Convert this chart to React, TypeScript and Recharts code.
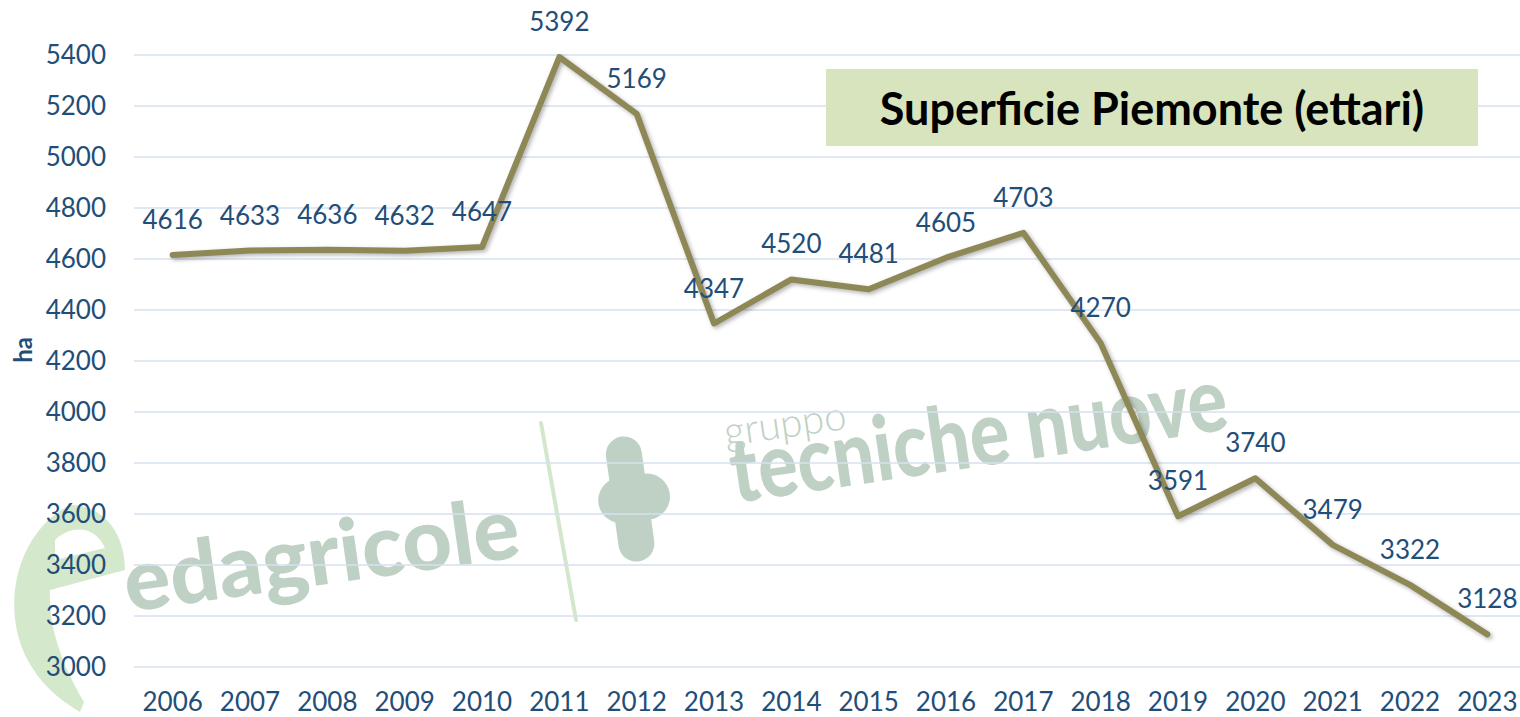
import React from 'react';
import { LineChart, Line, XAxis, YAxis, CartesianGrid, LabelList } from 'recharts';

const years = ['2006', '2007', '2008', '2009', '2010', '2011', '2012', '2013', '2014', '2015', '2016', '2017', '2018', '2019', '2020', '2021', '2022', '2023'];
const hectares = [4616, 4633, 4636, 4632, 4647, 5392, 5169, 4347, 4520, 4481, 4605, 4703, 4270, 3591, 3740, 3479, 3322, 3128];
const yTicks = [3000, 3200, 3400, 3600, 3800, 4000, 4200, 4400, 4600, 4800, 5000, 5200, 5400];

const data = years.map((year, i) => ({ idx: i, year, ha: hectares[i] }));
const centerTicks = years.map((_, i) => i);
const boundaryTicks = [...years.map((_, i) => i - 0.5), years.length - 0.5];

const BLUE = '#1F4E79';
const GRID = '#D6E1F0';
const OLIVE = '#8E8857';
const WM = '#BFD1C4';

// logo watermark behind the plot
const Watermark = () => (
  <svg width={1520} height={717} style={{ position: 'absolute', left: 0, top: 0 }}>
    <path
      d="M70 505 C20 530 0 600 25 655 C40 685 60 700 80 712 L84 702 C65 670 48 630 50 590 L125 570 C125 535 105 505 70 505 Z M55 540 C70 525 95 525 105 548 L55 560 Z"
      fill="#D4E8CC"
      fillRule="evenodd"
    />
    <line x1={541} y1={423} x2={576} y2={620} stroke="#D3E7CB" strokeWidth={4} strokeLinecap="round" />
    <g transform="rotate(-8 630 498)">
      <rect x={612} y={436} width={36} height={126} rx={18} fill={WM} />
      <rect x={598} y={476} width={72} height={46} rx={23} fill={WM} />
    </g>
    <text transform="translate(128 612) rotate(-8)" fontFamily="Lato" fontWeight={900} fontSize={86} fill={WM}>
      edagricole
    </text>
    <text transform="translate(726 446) rotate(-8)" fontFamily="Lato" fontWeight={300} fontSize={40} fill={WM}>
      gruppo
    </text>
    <text transform="translate(735 503) rotate(-8.5) scale(0.82 1)" fontFamily="Lato" fontWeight={900} fontSize={90} fill={WM}>
      tecniche nuove
    </text>
  </svg>
);

export default function App() {
  return (
    <div style={{ position: 'absolute', left: 0, top: 0, width: 1520, height: 717, overflow: 'hidden', background: '#fff', fontFamily: 'Lato' }}>
      <Watermark />
      <div style={{ position: 'absolute', left: 0, top: 0 }}>
        <LineChart width={1530} height={717} data={data} margin={{ top: 55, right: 4, left: 0, bottom: 0 }}>
          <CartesianGrid xAxisId="bounds" vertical={false} stroke={GRID} strokeWidth={1.5} />
          <XAxis
            xAxisId="bounds"
            dataKey="idx"
            type="number"
            domain={[-0.5, years.length - 0.5]}
            ticks={boundaryTicks}
            tickFormatter={() => ''}
            tickSize={9}
            height={0}
            stroke={GRID}
            strokeWidth={1.5}
          />
          <XAxis
            xAxisId="years"
            dataKey="idx"
            type="number"
            domain={[-0.5, years.length - 0.5]}
            ticks={centerTicks}
            tickFormatter={(v: number) => years[v]}
            axisLine={false}
            tickLine={false}
            tickSize={0}
            tickMargin={26}
            height={50}
            tick={{ fill: BLUE, fontSize: 26 }}
          />
          <YAxis
            domain={[3000, 5400]}
            ticks={yTicks}
            width={134}
            axisLine={false}
            tickLine={false}
            tickSize={0}
            tickMargin={28}
            tick={{ fill: BLUE, fontSize: 26 }}
            label={{
              value: 'ha',
              content: ({ viewBox }: any) => {
                const x = viewBox.x + 22;
                const y = viewBox.y + viewBox.height / 2 - 11;
                return (
                  <text x={x} y={y} transform={`rotate(-90 ${x} ${y})`} textAnchor="middle" dominantBaseline="central" fill={BLUE} fontWeight={700} fontSize={24}>
                    ha
                  </text>
                );
              },
            }}
          />
          <Line
            xAxisId="bounds"
            dataKey="ha"
            stroke={OLIVE}
            strokeWidth={6}
            strokeLinejoin="round"
            strokeLinecap="round"
            dot={false}
            isAnimationActive={false}
            style={{ filter: 'drop-shadow(2px 2px 2px rgba(0,0,0,0.3))' }}
          >
            <LabelList dataKey="ha" position="top" offset={26} fill={BLUE} fontSize={26} />
          </Line>
        </LineChart>
      </div>
      <div
        style={{
          position: 'absolute',
          left: 826,
          top: 69,
          width: 652,
          height: 77,
          background: '#D7E4BD',
          display: 'flex',
          alignItems: 'center',
          justifyContent: 'center',
          fontFamily: 'Lato',
          fontWeight: 700,
          fontSize: 45,
          color: '#000',
        }}
      >
        Superficie Piemonte (ettari)
      </div>
    </div>
  );
}
